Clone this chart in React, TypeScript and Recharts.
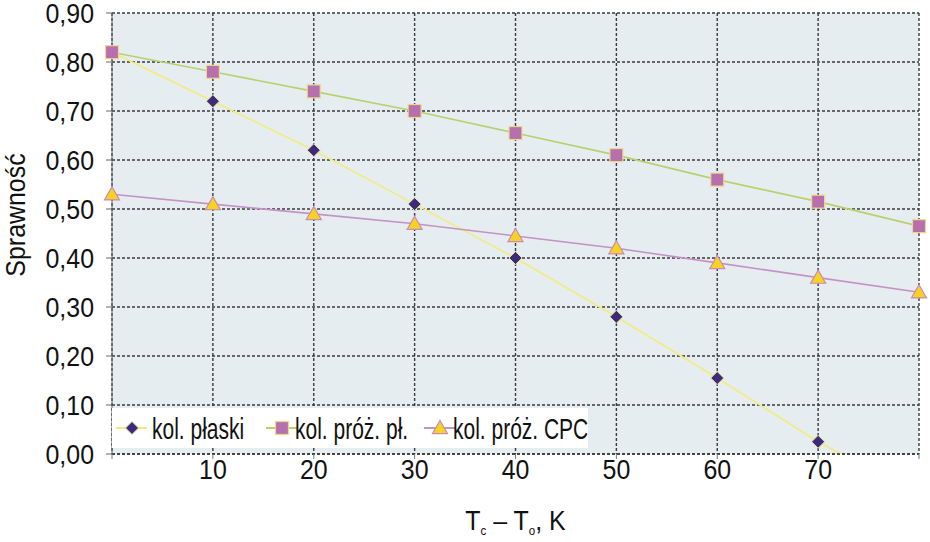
import { LineChart, Line, XAxis, YAxis, CartesianGrid, Legend } from "recharts";

const temps = [0, 10, 20, 30, 40, 50, 60, 70, 80];
const plaski = [0.82, 0.72, 0.62, 0.51, 0.4, 0.28, 0.155, 0.025, -0.085];
const prozPl = [0.82, 0.78, 0.74, 0.7, 0.655, 0.61, 0.56, 0.515, 0.465];
const prozCpc = [0.53, 0.51, 0.49, 0.47, 0.445, 0.42, 0.39, 0.36, 0.33];
const yTicks = [0, 0.1, 0.2, 0.3, 0.4, 0.5, 0.6, 0.7, 0.8, 0.9];

const data = temps.map((t, i) => ({ t, plaski: plaski[i], prozPl: prozPl[i], prozCpc: prozCpc[i] }));

// condensed look: Liberation Sans squeezed horizontally
const FONT = "'Liberation Sans', Arial, sans-serif";
const GRID = "#3a3a3a";
const SQ = 0.89;

const series = [
  { key: "plaski", name: "kol. płaski", line: "#f2ec7e", marker: "diamond", lx: 0, tx: 40 },
  { key: "prozPl", name: "kol. próż. pł.", line: "#b6d26e", marker: "square", lx: 150, tx: 183 },
  { key: "prozCpc", name: "kol. próż. CPC", line: "#c592c4", marker: "triangle", lx: 308, tx: 341 },
];

function Marker({ type, cx, cy }: { type: string; cx: number; cy: number }) {
  if (cx == null || cy == null) return null;
  if (type === "diamond") {
    const r = 6.5;
    return <polygon points={`${cx},${cy - r} ${cx + r},${cy} ${cx},${cy + r} ${cx - r},${cy}`} fill="#3b2b7a" stroke="#e9e39a" strokeWidth={1} />;
  }
  if (type === "square") {
    const r = 6.5;
    return <rect x={cx - r} y={cy - r} width={r * 2} height={r * 2} fill="#b86fae" stroke="#ecd98e" strokeWidth={1.2} />;
  }
  const r = 7.5;
  return <polygon points={`${cx},${cy - r} ${cx + r},${cy + r * 0.75} ${cx - r},${cy + r * 0.75}`} fill="#f7d21e" stroke="#c88bbb" strokeWidth={1.2} />;
}

function LegendBox() {
  return (
    <svg width={476} height={40} style={{ display: "block" }}>
      <rect x={0} y={0} width={476} height={40} fill="#fff" />
      {series.map((s) => (
        <g key={s.key}>
          <line x1={s.lx + 4} x2={s.lx + 35} y1={20} y2={20} stroke={s.line} strokeWidth={2} />
          <Marker type={s.marker} cx={s.lx + 20} cy={20} />
          <text x={0} y={0} transform={`translate(${s.tx},31) scale(0.7,1)`} fontFamily={FONT} fontSize={30} fill="#111">
            {s.name}
          </text>
        </g>
      ))}
    </svg>
  );
}

function YTick({ x, y, payload }: any) {
  return (
    <text x={0} y={0} dy="0.36em" transform={`translate(${x},${y}) scale(${SQ},1)`} textAnchor="end" fontFamily={FONT} fontSize={28} fill="#111">
      {payload.value.toFixed(2).replace(".", ",")}
    </text>
  );
}

function XTick({ x, y, payload }: any) {
  if (payload.value === 0 || payload.value === 80) return null;
  return (
    <text x={0} y={0} dy="0.72em" transform={`translate(${x},${y}) scale(${SQ},1)`} textAnchor="middle" fontFamily={FONT} fontSize={28} fill="#111">
      {payload.value}
    </text>
  );
}

function XLabel({ viewBox }: any) {
  const cx = viewBox.x + viewBox.width / 2;
  return (
    <text x={0} y={0} transform={`translate(${cx},530) scale(${SQ},1)`} textAnchor="middle" fontFamily={FONT} fontSize={28} fill="#111">
      T<tspan fontSize={13} dy={5}>c</tspan>
      <tspan dy={-5}> – T</tspan>
      <tspan fontSize={13} dy={5}>o</tspan>
      <tspan dy={-5}>, K</tspan>
    </text>
  );
}

function YLabel() {
  return (
    <text x={0} y={0} transform={`translate(25,215) rotate(-90) scale(${SQ},1)`} textAnchor="middle" fontFamily={FONT} fontSize={28} fill="#111">
      Sprawność
    </text>
  );
}

export default function App() {
  return (
    <div style={{ position: "absolute", left: 0, top: 0, background: "#fff" }}>
      <LineChart width={930} height={542} data={data} margin={{ top: 13, right: 11, bottom: 0, left: 0 }}>
        <CartesianGrid fill="#e6edf0" stroke={GRID} strokeDasharray="3 2" strokeWidth={1.4} />
        <XAxis
          dataKey="t"
          type="number"
          domain={[0, 80]}
          ticks={temps}
          height={88}
          tickSize={5}
          tickMargin={0}
          axisLine={{ stroke: GRID, strokeDasharray: "3 2", strokeWidth: 1.6 }}
          tickLine={{ stroke: "#6a7f88" }}
          tick={<XTick />}
          label={<XLabel />}
        />
        <YAxis
          domain={[0, 0.9]}
          ticks={yTicks}
          allowDataOverflow
          width={112}
          tickSize={6}
          tickMargin={12}
          axisLine={{ stroke: "#666" }}
          tickLine={{ stroke: "#666" }}
          tick={<YTick />}
          label={<YLabel />}
        />
        {series.map((s) => (
          <Line
            key={s.key}
            dataKey={s.key}
            name={s.name}
            stroke={s.line}
            strokeWidth={1.6}
            isAnimationActive={false}
            dot={(p: any) => <Marker key={`${s.key}-${p.index}`} type={s.marker} cx={p.cx} cy={p.cy} />}
          />
        ))}
        <Legend
          layout="horizontal"
          verticalAlign="middle"
          align="center"
          content={<LegendBox />}
          wrapperStyle={{ position: "absolute", left: 112, top: 408, width: "auto" }}
        />
      </LineChart>
    </div>
  );
}
